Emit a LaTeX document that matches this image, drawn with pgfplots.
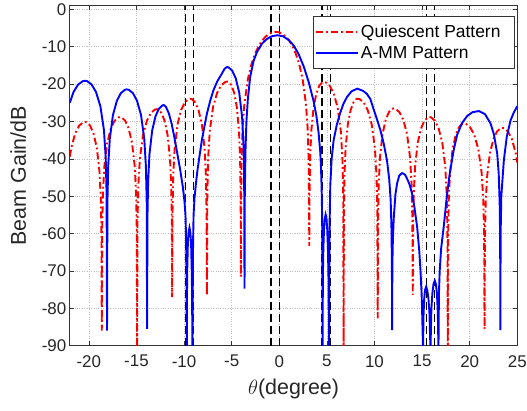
\documentclass[border=0pt]{standalone}
\usepackage{pgfplots}
\pgfplotsset{compat=1.18}
\usepackage{fontspec}
\setmainfont{Liberation Sans}
\begin{document}
\begin{tikzpicture}
\begin{axis}[
 scale only axis, width=447.5bp, height=340bp,
 xmin=-22, xmax=25, ymin=-90, ymax=1,
 xtick={-20,-15,...,25}, ytick={-90,-80,...,0},
 grid=major, major grid style={dotted, black!25, line width=0.6bp},
 tick align=inside, major tick length=4.5bp,
 axis line style={black!80, line width=0.6bp}, tick style={black!80, line width=0.6bp},
 xlabel={$\theta$(degree)}, ylabel={Beam Gain/dB},
 xticklabel shift=6bp, xlabel shift=5bp, ylabel shift=9bp,
 /pgf/number format/assume math mode=true,
 ticklabel style={font=\fontsize{17}{19}\selectfont, text=black!85},
 label style={font=\fontsize{21.5}{24}\selectfont, text=black!85},
 legend style={at={(1,1)}, anchor=north east, xshift=-2.5bp, yshift=-10.3bp,
   font=\fontsize{17.5}{20}\selectfont, draw=black!80, line width=0.6bp, fill=white,
   inner xsep=2bp, inner ysep=5bp, row sep=0bp,
   cells={anchor=west, minimum height=21bp, inner ysep=0bp}},
 legend image code/.code={\draw[#1] (0bp,0bp) -- (42bp,0bp);},
 legend cell align=left,
]
\addplot[black, line width=1.3bp, dash pattern=on 8bp off 4bp, forget plot] coordinates {(-9.88,-90)(-9.88,1)};
\addplot[black, line width=1.3bp, dash pattern=on 8bp off 4bp, forget plot] coordinates {(-9.0,-90)(-9.0,1)};
\addplot[black, line width=1.3bp, dash pattern=on 8bp off 4bp, forget plot] coordinates {(-0.87,-90)(-0.87,1)};
\addplot[black, line width=1.3bp, dash pattern=on 8bp off 4bp, forget plot] coordinates {(0,-90)(0,1)};
\addplot[black, line width=1.3bp, dash pattern=on 8bp off 4bp, forget plot] coordinates {(4.49,-90)(4.49,1)};
\addplot[black, line width=1.3bp, dash pattern=on 8bp off 4bp, forget plot] coordinates {(5.36,-90)(5.36,1)};
\addplot[black, line width=1.3bp, dash pattern=on 8bp off 4bp, forget plot] coordinates {(15.46,-90)(15.46,1)};
\addplot[black, line width=1.3bp, dash pattern=on 8bp off 4bp, forget plot] coordinates {(16.33,-90)(16.33,1)};
\addplot[red, line width=1.9bp, dash pattern=on 7bp off 3bp on 1.8bp off 3bp] coordinates {
(-22,-39.4)
(-21.835,-36.96)(-21.425,-33.11)(-21.015,-31.10)(-20.605,-30.21)(-20.40,-30.1)
(-20.224,-30.21)(-19.872,-31.10)(-19.52,-33.11)(-19.168,-36.96)(-18.886,-43.33)(-18.746,-50.63)(-18.675,-60.16)(-18.64,-86)
(-18.602,-58.86)(-18.525,-49.33)(-18.371,-42.03)(-18.064,-35.66)(-17.68,-31.81)(-17.296,-29.80)(-16.912,-28.91)(-16.72,-28.8)
(-16.541,-28.91)(-16.183,-29.80)(-15.825,-31.81)(-15.467,-35.66)(-15.181,-42.03)(-15.037,-49.33)(-14.966,-58.86)(-14.93,-91)
(-14.889,-56.76)(-14.806,-47.23)(-14.64,-39.93)(-14.309,-33.56)(-13.895,-29.71)(-13.481,-27.70)(-13.067,-26.81)(-12.86,-26.7)
(-12.699,-26.81)(-12.377,-27.70)(-12.055,-29.71)(-11.733,-33.56)(-11.475,-39.93)(-11.347,-47.23)(-11.282,-56.76)(-11.25,-77)
(-11.212,-53.96)(-11.137,-44.43)(-10.985,-37.13)(-10.683,-30.76)(-10.305,-26.91)(-9.927,-24.90)(-9.549,-24.01)(-9.36,-23.9)
(-9.184,-24.01)(-8.832,-24.90)(-8.48,-26.91)(-8.128,-30.76)(-7.846,-37.13)(-7.706,-44.43)(-7.635,-53.96)(-7.60,-76.6)
(-7.557,-49.36)(-7.471,-39.83)(-7.299,-32.53)(-6.955,-26.16)(-6.525,-22.31)(-6.095,-20.30)(-5.665,-19.41)(-5.45,-19.3)
(-5.308,-19.41)(-5.024,-20.30)(-4.74,-22.31)(-4.456,-26.16)(-4.229,-32.53)(-4.115,-39.83)(-4.058,-49.36)(-4.03,-71.5)
(-4.012,-51.98)(-3.956,-39.8)(-3.846,-31.61)(-3.662,-25.23)(-3.294,-18.62)(-2.926,-14.69)(-2.558,-11.94)(-2.19,-9.92)(-1.822,-8.42)(-1.454,-7.33)(-1.086,-6.58)(-0.718,-6.14)(-0.35,-6.0)
(0.0,-6.14)(0.35,-6.58)(0.70,-7.33)(1.05,-8.42)(1.40,-9.92)(1.75,-11.94)(2.10,-14.69)(2.45,-18.62)(2.80,-25.23)(2.975,-31.61)(3.08,-39.8)(3.1325,-51.98)(3.15,-63.3)
(3.18,-49.46)(3.241,-39.93)(3.361,-32.63)(3.603,-26.26)(3.905,-22.41)(4.207,-20.40)(4.509,-19.51)(4.66,-19.4)
(4.87,-19.51)(5.29,-20.40)(5.71,-22.41)(6.13,-26.26)(6.466,-32.63)(6.634,-39.93)(6.718,-49.46)(6.76,-91)
(6.789,-53.96)(6.848,-44.43)(6.966,-37.13)(7.201,-30.76)(7.495,-26.91)(7.789,-24.90)(8.083,-24.01)(8.23,-23.9)
(8.441,-24.01)(8.863,-24.90)(9.285,-26.91)(9.707,-30.76)(10.045,-37.13)(10.213,-44.43)(10.298,-53.96)(10.34,-82.7)
(10.374,-56.56)(10.441,-47.03)(10.575,-39.73)(10.844,-33.36)(11.18,-29.51)(11.516,-27.50)(11.852,-26.61)(12.02,-26.5)
(12.22,-26.61)(12.62,-27.50)(13.02,-29.51)(13.42,-33.36)(13.74,-39.73)(13.90,-47.03)(13.98,-56.56)(14.02,-76.4)
(14.055,-58.86)(14.125,-49.33)(14.265,-42.03)(14.545,-35.66)(14.895,-31.81)(15.245,-29.80)(15.595,-28.91)(15.77,-28.8)
(15.963,-28.91)(16.349,-29.80)(16.735,-31.81)(17.121,-35.66)(17.43,-42.03)(17.584,-49.33)(17.661,-58.86)(17.70,-91)
(17.734,-60.56)(17.801,-51.03)(17.935,-43.73)(18.204,-37.36)(18.54,-33.51)(18.876,-31.50)(19.212,-30.61)(19.38,-30.5)
(19.598,-30.61)(20.034,-31.50)(20.47,-33.51)(20.906,-37.36)(21.255,-43.73)(21.429,-51.03)(21.516,-60.56)(21.56,-85.5)
(21.597,-61.76)(21.672,-52.23)(21.82,-44.93)(22.118,-38.56)(22.49,-34.71)(22.862,-32.70)(23.234,-31.81)(23.42,-31.7)
(23.623,-31.81)(24.029,-32.70)(24.435,-34.71)(24.841,-38.56)(25,-41)
};
\addlegendentry{Quiescent Pattern\kern10bp}
\addplot[blue, line width=1.9bp] coordinates {
(-22,-25.0)(-21.61,-22.11)(-21.126,-20.10)(-20.642,-19.21)(-20.40,-19.1)
(-20.169,-19.21)(-19.707,-20.10)(-19.245,-22.11)(-18.783,-25.96)(-18.413,-32.33)(-18.229,-39.63)(-18.136,-49.16)(-18.09,-86)
(-18.048,-51.46)(-17.965,-41.93)(-17.799,-34.63)(-17.466,-28.26)(-17.05,-24.41)(-16.634,-22.40)(-16.218,-21.51)(-16.01,-21.4)
(-15.797,-21.51)(-15.371,-22.40)(-14.945,-24.41)(-14.519,-28.26)(-14.178,-34.63)(-14.008,-41.93)(-13.923,-51.46)(-13.88,-85.5)
(-13.845,-55.66)(-13.774,-46.13)(-13.634,-38.83)(-13.352,-32.46)(-13.0,-28.61)(-12.648,-26.60)(-12.296,-25.71)(-12.12,-25.6)
(-11.9,-26.1)(-11.6,-27.8)(-11.3,-30.6)(-11.0,-34.5)(-10.7,-38.7)(-10.4,-43.0)(-10.13,-47.5)(-9.95,-51.5)(-9.85,-55)(-9.78,-62)(-9.74,-70)(-9.71,-91)
(-9.69,-76)(-9.67,-70.3)(-9.6,-62.7)(-9.52,-59.6)(-9.43,-58.4)(-9.34,-59.6)(-9.26,-62.7)(-9.19,-70.3)(-9.16,-76)(-9.12,-91)
(-9.09,-75)(-9.05,-62)(-9.0,-55)(-8.9,-50.5)(-8.75,-46.5)(-8.59,-43)(-8.35,-38.8)(-8.13,-35)(-7.85,-31.2)(-7.6,-27.9)(-7.25,-24.4)(-6.91,-21.6)(-6.5,-19.2)(-6.03,-17.2)(-5.75,-15.9)(-5.5,-15.4)
(-5.315,-15.51)(-4.945,-16.40)(-4.575,-18.41)(-4.205,-22.26)(-3.909,-28.63)(-3.761,-35.93)(-3.687,-45.46)(-3.65,-74.7)
(-3.62,-50)(-3.55,-38)(-3.45,-30)(-3.3,-24)(-3.05,-18)(-2.7,-13.8)(-2.34,-11.4)(-1.8,-9.1)(-1.29,-7.9)(-0.8,-7.2)(-0.2,-6.9)(0.4,-7.2)(1.0,-8.2)(1.5,-9.6)(2.0,-11.8)(2.56,-15.2)(3.1,-19.5)(3.6,-24.5)(3.9,-28.5)(4.13,-33)(4.3,-38)(4.38,-42)(4.45,-48)(4.5,-55)(4.53,-65)(4.55,-91)
(4.58,-72)(4.63,-64)(4.7,-59)(4.78,-56)(4.87,-54.9)(4.96,-56)(5.04,-59)(5.11,-64)(5.17,-72)(5.22,-91)
(5.26,-65)(5.3,-55)(5.36,-47)(5.5,-40)(5.71,-35)(6.05,-30.8)(6.41,-27.6)(6.75,-25.2)(7.12,-23.4)(7.6,-21.9)(8.2,-21.2)(8.8,-21.8)(9.2,-22.6)(9.57,-24.0)(9.92,-26.8)(10.3,-29.7)(10.62,-32.3)(10.97,-35.9)(11.32,-40.5)(11.55,-45.5)(11.7,-51)(11.78,-58)(11.83,-68)(11.85,-85.8)
(11.88,-68)(11.93,-62)(12.02,-56)(12.2,-49.5)(12.38,-46.5)(12.6,-44.5)(12.9,-43.8)(13.2,-44.2)(13.43,-45.3)(13.7,-47)(13.95,-49.3)(14.2,-53)(14.48,-58.2)(14.7,-64.5)(14.83,-69.8)(14.95,-76)(15.0,-80.5)(15.1,-91)
(15.15,-82)(15.22,-77.5)(15.32,-75)(15.43,-74.2)(15.55,-75.2)(15.67,-77.5)(15.77,-81)(15.88,-91)
(15.98,-80)(16.08,-76)(16.2,-73.5)(16.33,-72.6)(16.45,-73.5)(16.56,-76)(16.65,-81)(16.72,-91)
(16.77,-76)(16.85,-70)(17.0,-64)(17.28,-58)(17.6,-50)(17.9,-44)(18.33,-37.5)(18.69,-33.5)(19.2,-30.4)(19.74,-28.5)(20.3,-27.5)(20.96,-27.2)(21.6,-28.0)(22.19,-30.5)(22.55,-33.5)(22.89,-38.6)(23.05,-44)(23.15,-52)(23.2,-62)(23.22,-85.8)(23.25,-60)(23.32,-50)(23.59,-40.3)(23.9,-34)(24.29,-29.7)(24.65,-27.5)(25,-25.9)
};
\addlegendentry{A-MM Pattern}
\end{axis}
\pgfresetboundingbox
\path ([xshift=-69.8bp,yshift=-65.3bp]current axis.south west) rectangle ([xshift=9.7bp,yshift=5.7bp]current axis.north east);
\end{tikzpicture}
\end{document}
